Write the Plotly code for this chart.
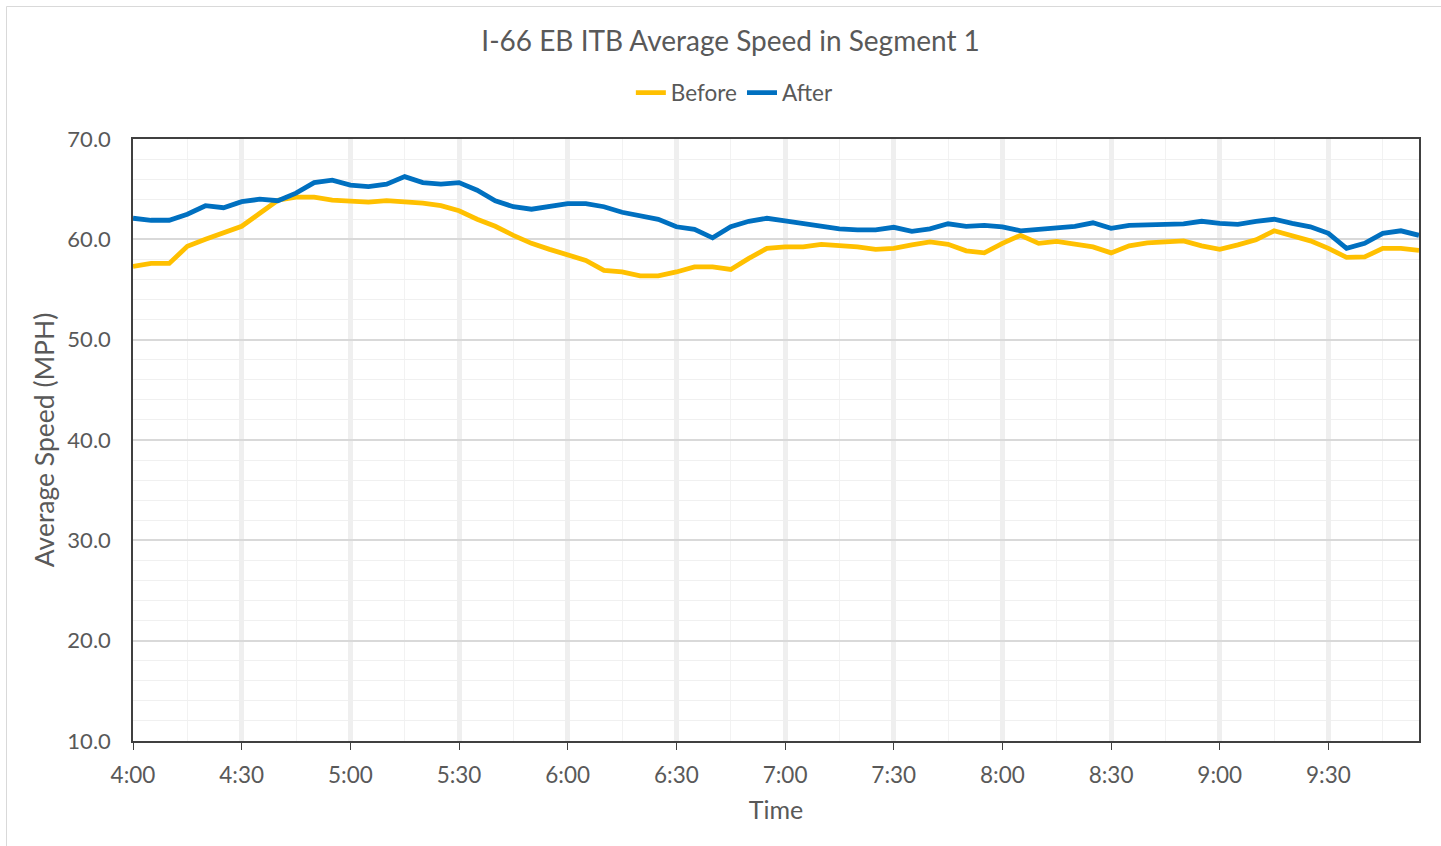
import plotly.graph_objects as go
import pandas as pd

times = pd.date_range("2024-01-01 04:00", "2024-01-01 09:55", freq="5min")

before = [57.3, 57.6, 57.6, 59.3, 60.0, 60.7, 61.3, 62.6, 63.9, 64.2, 64.2, 63.9,
          63.85, 63.7, 63.85, 63.75, 63.6, 63.35, 62.85, 62.0, 61.3, 60.4, 59.6, 59.0,
          58.4, 57.9, 56.9, 56.75, 56.35, 56.35, 56.75, 57.25, 57.25, 57.0, 58.1, 59.1,
          59.25, 59.25, 59.5, 59.4, 59.25, 59.0, 59.1, 59.45, 59.75, 59.5, 58.85, 58.65,
          59.6, 60.4, 59.6, 59.8, 59.5, 59.25, 58.65, 59.35, 59.65, 59.75, 59.85, 59.35,
          59.0, 59.45, 59.95, 60.85, 60.4, 59.85, 59.1, 58.2, 58.25, 59.1, 59.1, 58.9]

after = [62.1, 61.9, 61.9, 62.5, 63.35, 63.15, 63.75, 64.0, 63.85, 64.6, 65.65, 65.9,
         65.4, 65.25, 65.5, 66.25, 65.65, 65.5, 65.65, 64.9, 63.85, 63.25, 63.0, 63.3,
         63.55, 63.55, 63.25, 62.7, 62.35, 62.0, 61.25, 61.0, 60.15, 61.25, 61.8, 62.1,
         61.85, 61.6, 61.3, 61.05, 60.95, 60.95, 61.2, 60.8, 61.05, 61.55, 61.3, 61.4,
         61.25, 60.85, 61.0, 61.15, 61.3, 61.65, 61.1, 61.4, 61.4, 61.5, 61.55, 61.8,
         61.6, 61.5, 61.8, 62.0, 61.6, 61.25, 60.6, 59.1, 59.6, 60.6, 60.85, 60.4]

series_names = ["Before", "After"]
series_colors = ["#FFC000", "#0070C0"]

FONT = "Lato, 'Noto Sans', sans-serif"
GRAY = "#595959"

fig = go.Figure()
for name, vals, col in zip(series_names, [before, after], series_colors):
    fig.add_trace(go.Scatter(x=times, y=vals, mode="lines", name=name,
                             line=dict(color=col, width=4.8)))

fig.update_layout(
    width=1441, height=846,
    margin=dict(l=133, r=22, t=139, b=105),
    paper_bgcolor="white", plot_bgcolor="white",
    font=dict(family=FONT, color=GRAY, size=22),
    title=dict(text="I-66 EB ITB Average Speed in Segment 1", x=0.507, xanchor="center",
               y=1 - 41 / 846, yanchor="middle", font=dict(size=28, color=GRAY, family=FONT)),
    legend=dict(orientation="h", x=0.468, xanchor="center", y=1.0764, yanchor="middle",
                font=dict(size=22.5, color=GRAY), itemwidth=30, tracegroupgap=0,
                bgcolor="rgba(0,0,0,0)"),
    showlegend=True,
)

fig.update_xaxes(
    type="date",
    range=[times[0], times[-1]],
    tickformat="%-H:%M",
    dtick=30 * 60 * 1000,
    tick0=times[0],
    ticks="outside", ticklen=7, tickcolor="#404040", tickwidth=1,
    ticklabelstandoff=6,
    showgrid=True, gridcolor="#EFEFEF", gridwidth=5,
    minor=dict(dtick=15 * 60 * 1000, showgrid=True, gridcolor="#F2F2F2", gridwidth=1),
    showline=True, linecolor="#404040", linewidth=1.5, mirror=True,
    title=dict(text="Time", standoff=15, font=dict(size=25, color=GRAY)),
    tickfont=dict(size=22.5, color=GRAY),
    zeroline=False,
)

fig.update_yaxes(
    range=[10, 70], dtick=10, tickformat=".1f",
    showgrid=True, gridcolor="#D9D9D9", gridwidth=1.5,
    minor=dict(dtick=2, showgrid=True, gridcolor="#F0F0F0", gridwidth=1),
    showline=True, linecolor="#404040", linewidth=1.5, mirror=True,
    ticks="", ticklabelstandoff=16,
    title=dict(text="Average Speed (MPH)", standoff=5, font=dict(size=26.5, color=GRAY)),
    tickfont=dict(size=22, color=GRAY),
    zeroline=False,
)

# outer chart border (light gray frame)
fig.add_shape(type="line", xref="paper", yref="paper",
              x0=(6.5 - 133) / 1286, x1=2, y0=1 + (139 - 6.5) / 602, y1=1 + (139 - 6.5) / 602,
              line=dict(color="#D9D9D9", width=1))
fig.add_shape(type="line", xref="paper", yref="paper",
              x0=(6.5 - 133) / 1286, x1=(6.5 - 133) / 1286, y0=1 + (139 - 6.5) / 602, y1=-1,
              line=dict(color="#D9D9D9", width=1))

fig.write_html("out.html", config={"displayModeBar": False},
               post_script="document.body.style.margin='0';")
